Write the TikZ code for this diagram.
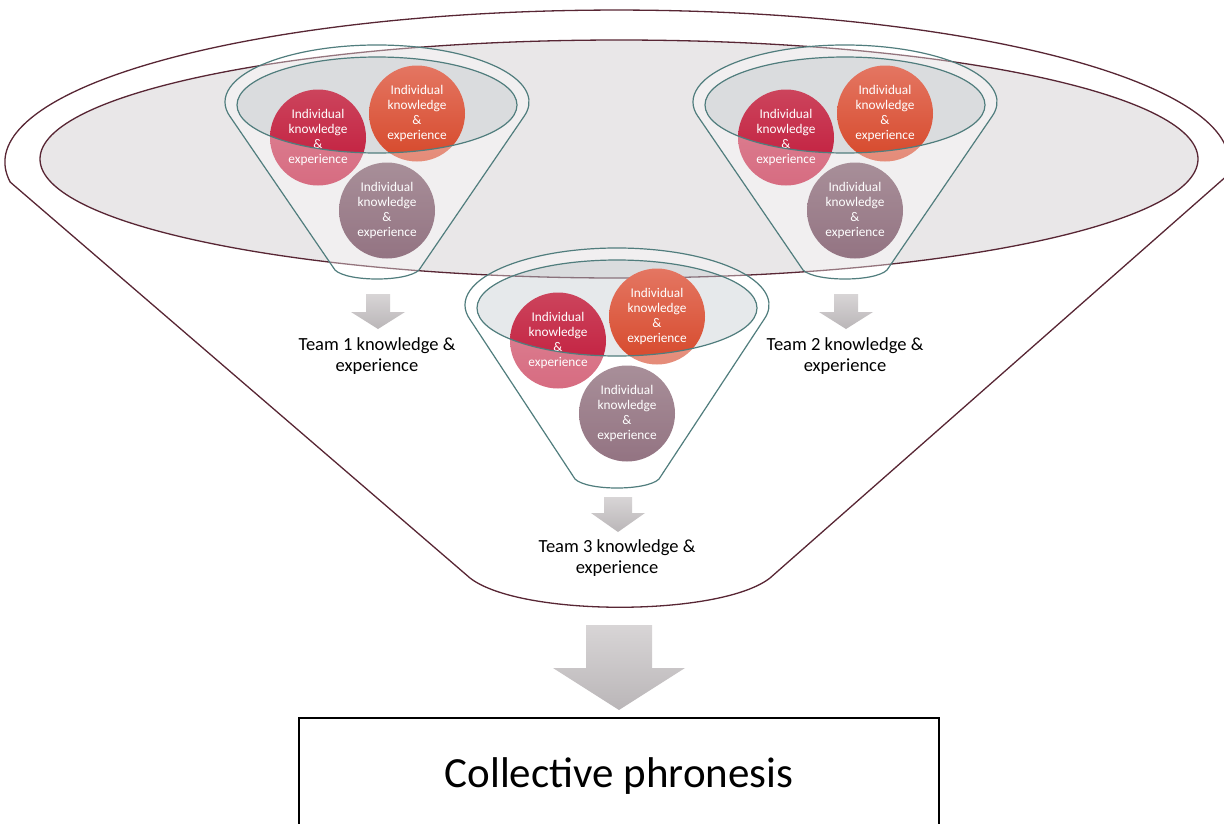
\documentclass[tikz,border=0pt]{standalone}
\usepackage{fontspec}
\setmainfont{Carlito}
\definecolor{maroonline}{RGB}{88,38,52}
\definecolor{bigfill}{RGB}{233,231,232}
\definecolor{tealline}{RGB}{80,125,125}
\definecolor{rimfill}{RGB}{200,208,212}
\definecolor{crimsonA}{RGB}{204,68,92}
\definecolor{crimsonB}{RGB}{192,22,56}
\definecolor{orangeA}{RGB}{228,118,98}
\definecolor{orangeB}{RGB}{214,72,42}
\definecolor{mauveA}{RGB}{118,78,94}
\definecolor{mauveB}{RGB}{85,35,58}
\definecolor{arrowA}{RGB}{216,213,214}
\definecolor{arrowB}{RGB}{186,182,184}
\tikzset{
  member/.style={circle, minimum size=96pt, inner sep=0pt, text=white, align=center,
    font=\fontsize{13.3}{15}\selectfont},
  funnelline/.style={draw=tealline, line width=1.2pt},
  bigline/.style={draw=maroonline, line width=1.3pt},
  teamlabel/.style={align=center, font=\fontsize{18.5}{21}\selectfont},
  blockarrow/.style={top color=arrowA, bottom color=arrowB, draw=none}
}
% one small funnel with its three members; #1,#2 shift, #3 name prefix, #4 extra depth
\newcommand\teamfunnel[4]{%
\begin{scope}[shift={(#1,#2)}]
  \fill[rimfill, fill opacity=.45] (377,105) ellipse[x radius=140, y radius=48];
  \node[member, top color=crimsonA, bottom color=crimsonB] (#3a) at (318,137.5)
    {Individual\\knowledge\\\&\\experience};
  \node[member, top color=orangeA, bottom color=orangeB] (#3b) at (417,113.5)
    {Individual\\knowledge\\\&\\experience};
  \node[member, top color=mauveA, bottom color=mauveB] (#3c) at (387,210.5)
    {Individual\\knowledge\\\&\\experience};
  % translucent front of the funnel
  \fill[white, fill opacity=.37, even odd rule]
    (230.2,116.75) -- (335,270+#4) .. controls (347,282+#4) and (407,282+#4) .. (419,270+#4)
    -- (523.8,116.75) arc[start angle=15, end angle=-195, x radius=152, y radius=57] -- cycle
    (377,105) ellipse[x radius=140, y radius=48];
  \draw[funnelline]
    (230.2,116.75) -- (335,270+#4) .. controls (347,282+#4) and (407,282+#4) .. (419,270+#4)
    -- (523.8,116.75) arc[start angle=15, end angle=-195, x radius=152, y radius=57] -- cycle;
  \draw[funnelline] (377,105) ellipse[x radius=140, y radius=48];
\end{scope}}
% downward block arrow: centre x, top y, shaft half width, head half width, head y, tip y
\newcommand\blockdown[6]{%
  \shade[blockarrow] (#1-#3,#2) -- (#1+#3,#2) -- (#1+#3,#5) -- (#1+#4,#5) -- (#1,#6)
    -- (#1-#4,#5) -- (#1-#3,#5) -- cycle;}
\begin{document}
\begin{tikzpicture}[x=1pt, y=-1pt]
\useasboundingbox (0,0) rectangle (1224,823);
% large funnel holding the teams
\draw[bigline, fill=white] (470,578) .. controls (520,617) and (720,617) .. (770,578)
  -- (1226,176.6) arc[start angle=5.5, end angle=-187.6, x radius=612, y radius=152] -- cycle;
\draw[bigline, fill=bigfill] (619,159) ellipse[x radius=579, y radius=119];
% the three team funnels
\teamfunnel{0}{0}{f1}{0}
\teamfunnel{468}{0}{f2}{0}
\teamfunnel{240}{203}{f3}{6}
% arrows and team outcomes
\blockdown{378}{294}{12}{27}{312}{329}
\blockdown{846}{294}{12}{27}{312}{329}
\blockdown{618}{497}{14}{27}{513}{532}
\node[teamlabel] (t1) at (377,356) {Team 1 knowledge \&\\experience};
\node[teamlabel] (t2) at (845,356) {Team 2 knowledge \&\\experience};
\node[teamlabel] (t3) at (617,558) {Team 3 knowledge \&\\experience};
\blockdown{619}{625}{33}{66}{668}{710}
% result box
\node[draw=black, line width=1.6pt, minimum width=640pt, minimum height=116pt,
  font=\fontsize{43}{50}\selectfont] (res) at (619,776) {Collective phronesis};
\end{tikzpicture}
\end{document}
